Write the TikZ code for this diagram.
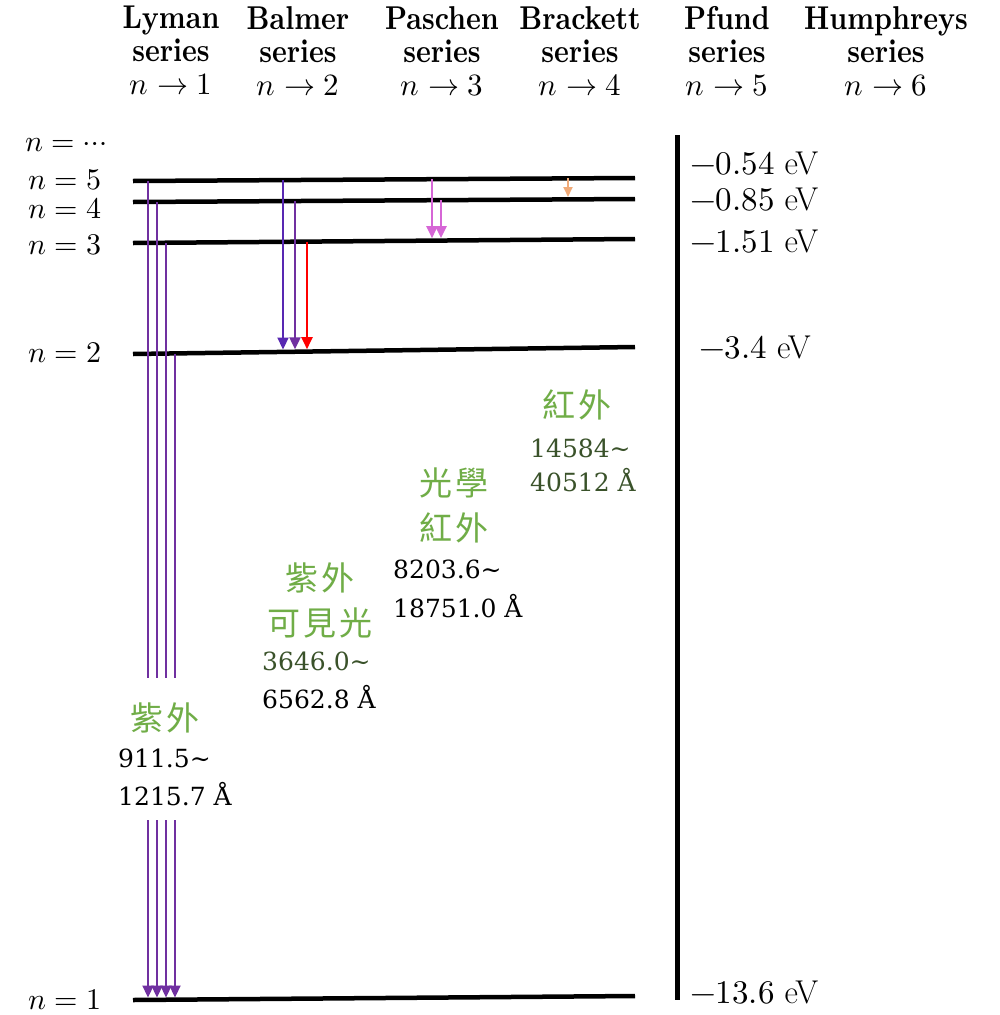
\documentclass[tikz,border=0pt]{standalone}
\usepackage{unicode-math}
\newfontfamily\cjk[LetterSpace=8]{Noto Sans CJK TC}
\newfontfamily\numf{DejaVu Serif}
\newfontfamily\hdrfont[FakeStretch=0.85]{lmroman10-bold.otf}
\usetikzlibrary{arrows.meta}
\definecolor{lym}{RGB}{112,48,160}
\definecolor{bal}{RGB}{88,40,178}
\definecolor{pas}{RGB}{214,102,214}
\definecolor{bra}{RGB}{240,170,120}
\definecolor{zh}{RGB}{112,173,71}
\definecolor{dg}{RGB}{58,82,42}
\newcommand{\hb}[1]{{\hdrfont #1}}
\newcommand{\hm}[1]{{\fontsize{31}{33}\selectfont #1}}
\newcommand{\tld}{\char"7E}
\tikzset{
  lvl/.style={line width=4.5pt},
  trans/.style={line width=2.2pt, -{Triangle[width=11pt,length=12pt]}},
  transplain/.style={line width=2.2pt},
  hdr/.style={align=center, inner sep=0pt, anchor=north, font=\fontsize{33}{33}\selectfont},
  nlab/.style={anchor=west, inner sep=0pt, font=\fontsize{30}{36}\selectfont},
  ev/.style={anchor=west, inner sep=0pt, font=\fontsize{33}{36}\selectfont},
  zhlab/.style={inner sep=0pt, text=zh, font=\fontsize{33}{40}\selectfont\cjk},
  num/.style={anchor=base west, inner sep=0pt, font=\fontsize{25}{34}\selectfont\numf},
}
\begin{document}
\begin{tikzpicture}[x=1pt,y=-1pt]
\path[fill=white] (0,0) rectangle (1000,1015);
\useasboundingbox (0,0) rectangle (1000,1015);

% headers
\node[hdr] (hL) at (171,6) {\hb{Lyman}\\\hb{series}\\\hm{$n\to 1$}};
\node[hdr] (hB) at (298,6) {\hb{Balmer}\\\hb{series}\\\hm{$n\to 2$}};
\node[hdr] (hP) at (442,6) {\hb{Paschen}\\\hb{series}\\\hm{$n\to 3$}};
\node[hdr] (hBr) at (580,6) {\hb{Brackett}\\\hb{series}\\\hm{$n\to 4$}};
\node[hdr] (hPf) at (727,6) {\hb{Pfund}\\\hb{series}\\\hm{$n\to 5$}};
\node[hdr] (hH) at (886,6) {\hb{Humphreys}\\\hb{series}\\\hm{$n\to 6$}};

% level labels
\node[nlab] (ninf) at (25,145) {$n=\cdots$};
\node[nlab] (n5) at (28,180) {$n=5$};
\node[nlab] (n4) at (28,209) {$n=4$};
\node[nlab] (n3) at (28,245) {$n=3$};
\node[nlab] (n2) at (28,353) {$n=2$};
\node[nlab] (n1) at (28,1000) {$n=1$};

% levels
\coordinate (L5a) at (133,181); \coordinate (L5b) at (635,178);
\coordinate (L4a) at (133,202); \coordinate (L4b) at (635,199);
\coordinate (L3a) at (133,243); \coordinate (L3b) at (635,239);
\coordinate (L2a) at (133,354); \coordinate (L2b) at (635,347);
\coordinate (L1a) at (133,1000); \coordinate (L1b) at (635,996);
\draw[lvl] (L5a) -- (L5b);
\draw[lvl] (L4a) -- (L4b);
\draw[lvl] (L3a) -- (L3b);
\draw[lvl] (L2a) -- (L2b);
\draw[lvl] (L1a) -- (L1b);

% energy axis
\coordinate (axT) at (677,135); \coordinate (axB) at (677,1000);
\draw[line width=5pt] (axT) -- (axB);
\node[ev] (e5) at (690,164) {$-0.54$ eV};
\node[ev] (e4) at (690,200) {$-0.85$ eV};
\node[ev] (e3) at (690,242) {$-1.51$ eV};
\node[ev] (e2) at (699,348) {$-3.4$ eV};
\node[ev] (e1) at (690,993) {$-13.6$ eV};

% Lyman
\coordinate (ly5s) at (148,181); \coordinate (ly5m) at (148,678); \coordinate (ly5n) at (148,820); \coordinate (ly5e) at (148,997.5);
\coordinate (ly4s) at (157,202); \coordinate (ly4m) at (157,678); \coordinate (ly4n) at (157,820); \coordinate (ly4e) at (157,997.5);
\coordinate (ly3s) at (166,243); \coordinate (ly3m) at (166,678); \coordinate (ly3n) at (166,820); \coordinate (ly3e) at (166,997.5);
\coordinate (ly2s) at (175,354); \coordinate (ly2m) at (175,678); \coordinate (ly2n) at (175,820); \coordinate (ly2e) at (175,997.5);
\foreach \k in {5,4,3,2}{
  \draw[transplain, lym] (ly\k s) -- (ly\k m);
  \draw[trans, lym] (ly\k n) -- (ly\k e);
}

% Balmer
\coordinate (b5s) at (283,180); \coordinate (b5e) at (283,349.5);
\coordinate (b4s) at (295,201); \coordinate (b4e) at (295,349.3);
\coordinate (b3s) at (307,241.6); \coordinate (b3e) at (307,349.2);
\draw[trans, bal] (b5s) -- (b5e);
\draw[trans, lym] (b4s) -- (b4e);
\draw[trans, red] (b3s) -- (b3e);

% Paschen
\coordinate (p5s) at (432,179.2); \coordinate (p5e) at (432,238.2);
\coordinate (p4s) at (441,200.2); \coordinate (p4e) at (441,238.1);
\draw[trans, pas] (p5s) -- (p5e);
\draw[trans, pas] (p4s) -- (p4e);

% Brackett
\coordinate (k5s) at (568,178.4); \coordinate (k4e) at (568,197);
\draw[line width=2pt, bra, -{Triangle[width=9pt,length=10pt]}] (k5s) -- (k4e);

% labels
\node[zhlab] (zIR) at (577,405) {紅外};
\node[num, text=dg] (brA) at (530,457) {14584\tld};
\node[num, text=dg] (brB) at (530,491) {40512 Å};

\node[zhlab] (zOp) at (454,483) {光學};
\node[zhlab] (zIR2) at (454,528) {紅外};
\node[num] (paA) at (393,578) {8203.6\tld};
\node[num] (paB) at (393,617) {18751.0 Å};

\node[zhlab] (zUV2) at (320,578) {紫外};
\node[zhlab] (zVis) at (320,623) {可見光};
\node[num, text=dg] (baA) at (262,670) {3646.0\tld};
\node[num] (baB) at (262,708) {6562.8 Å};

\node[zhlab] (zUV) at (165,718) {紫外};
\node[num] (lyA) at (118,767) {911.5\tld};
\node[num] (lyB) at (118,805) {1215.7 Å};
\end{tikzpicture}
\end{document}
